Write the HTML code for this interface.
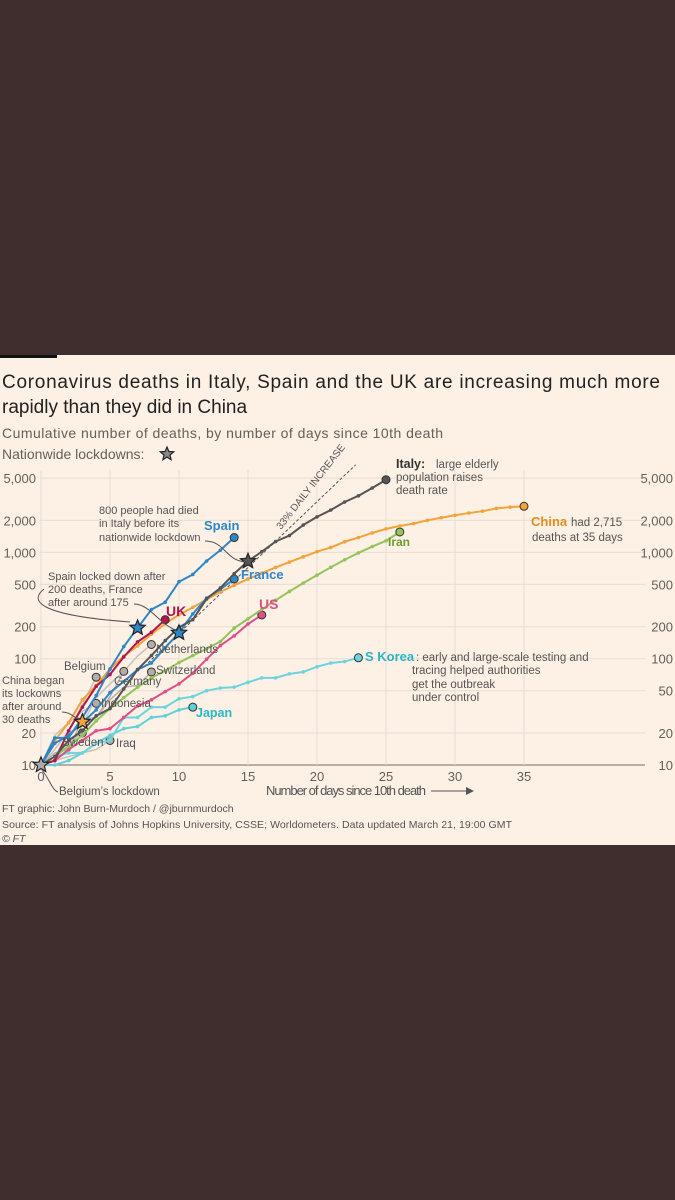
<!DOCTYPE html>
<html><head><meta charset="utf-8"><style>
html,body{margin:0;padding:0;background:#3f2e2d;}
svg{display:block;font-family:"Liberation Sans",sans-serif;}
</style></head><body>
<svg id="s" width="675" height="1200" viewBox="0 0 675 1200">
<rect x="0" y="0" width="675" height="1200" fill="#3f2e2d"/>
<rect x="0" y="355" width="675" height="490" fill="#fdf0e5"/>
<rect x="0" y="355" width="57" height="3" fill="#111"/>
<text x="2" y="388" font-size="19" fill="#222" textLength="658">Coronavirus deaths in Italy, Spain and the UK are increasing much more</text>
<text x="2" y="413" font-size="19" fill="#222">rapidly than they did in China</text>
<text x="2" y="438" font-size="14" fill="#66605a" textLength="441">Cumulative number of deaths, by number of days since 10th death</text>
<text x="2" y="459" font-size="14" fill="#66605a">Nationwide lockdowns:</text>
<g id="grid"></g><g id="axes"></g><g id="lines"></g><g id="ann"></g>
<text x="266" y="795" font-size="13" fill="#555" textLength="160">Number of days since 10th death</text>
<line x1="431" y1="791" x2="468" y2="791" stroke="#555" stroke-width="1"/>
<path d="M466,787 L474,791 L466,795 Z" fill="#555"/>
<text x="2" y="812" font-size="10.5" fill="#555">FT graphic: John Burn-Murdoch / @jburnmurdoch</text>
<text x="2" y="828" font-size="10.5" fill="#555" textLength="510">Source: FT analysis of Johns Hopkins University, CSSE; Worldometers. Data updated March 21, 19:00 GMT</text>
<text x="2" y="842" font-size="10.5" fill="#555" font-style="italic">© FT</text>
</svg>
<script>
const yTicks=[10,20,50,100,200,500,1000,2000,5000];
const yTickLabels=["10","20","50","100","200","500","1,000","2,000","5,000"];
const xTicks=[0,5,10,15,20,25,30,35];
const italy=[10,12,17,21,29,34,52,79,107,148,197,233,366,463,631,827,1016,1266,1441,1809,2158,2503,2978,3405,4032,4825];
const spain=[10,18,18,28,45,80,130,195,290,340,530,620,830,1050,1380];
const france=[10,16,19,25,33,48,61,79,91,127,175,264,372,450,562];
const uk=[10,11,21,35,55,71,104,144,177,233];
const us=[10,11,14,17,21,22,28,36,41,49,58,73,99,133,164,212,258];
const iran=[10,12,15,19,26,34,43,54,66,77,92,107,124,145,194,237,291,354,429,514,611,724,853,988,1135,1284,1556];
const china=[10,17,25,41,56,80,106,132,170,213,259,304,361,425,490,563,637,722,811,908,1016,1113,1259,1380,1523,1665,1770,1868,2004,2118,2236,2345,2442,2592,2663,2715];
const skorea=[10,12,13,13,16,17,28,28,35,35,42,44,50,53,54,60,66,66,72,75,84,91,94,102];
const japan=[10,10,11,13,16,19,22,23,28,29,33,35];
const belgium=[10,14,21,37,67];
const netherlands=[10,12,20,24,43,58,76,106,136];
const germany=[10,12,13,24,28,44,76];
const switzerland=[10,13,14,27,28,41,54,56,75];
const indonesia=[10,19,25,32,38];
const sweden=[10,12,16,20];
const iraq=[10,11,12,13,14,17];
const svgNS='http://www.w3.org/2000/svg';
const X=d=>41+d*13.8;
const Y=v=>765-106.3*Math.log10(v/10);
function mk(tag,attrs,parent){const e=document.createElementNS(svgNS,tag);for(const k in attrs)e.setAttribute(k,attrs[k]);document.getElementById(parent).appendChild(e);return e;}
yTicks.forEach((t,i)=>{
  const g=mk('line',{x1:40,x2:645,y1:Y(t),y2:Y(t),stroke:i==0?'#8a8580':'#e9ddd2','stroke-width':i==0?1.2:1},'grid');
  
  
  if(t!==50){
  const a=mk('text',{x:36,y:Y(t)+5,'font-size':13,fill:'#66605a','text-anchor':'end'},'axes');a.textContent=yTickLabels[i];
  
  
  }
  const b=mk('text',{x:673,y:Y(t)+5,'font-size':13,fill:'#66605a','text-anchor':'end'},'axes');b.textContent=yTickLabels[i];
  
  
});
xTicks.forEach(t=>{
  const g=mk('line',{x1:X(t),x2:X(t),y1:470,y2:765,stroke:'#e9ddd2'},'grid');
  
  
  const a=mk('text',{x:X(t),y:781,'font-size':13,fill:'#66605a','text-anchor':'middle'},'axes');a.textContent=t;
  
  
});
(function(){const d0=7.5,d1=22.8;const l=mk('line',{x1:X(d0),y1:Y(10*Math.pow(1.33,d0)),x2:X(d1),y2:Y(10*Math.pow(1.33,d1)),stroke:'#555','stroke-dasharray':'3,2','stroke-width':1},'lines');

})();
const series=[
 ['belgium',belgium,'#c9c2ba',1.5],['netherlands',netherlands,'#c9c2ba',1.5],['germany',germany,'#b8b0a8',1.5],['switzerland',switzerland,'#b8b0a8',1.5],
 ['indonesia',indonesia,'#c9c2ba',1.5],['sweden',sweden,'#c9c2ba',1.5],['iraq',iraq,'#c9c2ba',1.5],
 ['japan',japan,'#5fd0da',2],['skorea',skorea,'#6fd3dd',2],['us',us,'#df4e86',2],['iran',iran,'#92c45a',2],
 ['china',china,'#f2a33a',2],['uk',uk,'#b0164f',2],['france',france,'#2e86c6',2],['spain',spain,'#2e86c6',2],['italy',italy,'#555',2]];
series.forEach(([n,d,c,w])=>{
  const p=mk('polyline',{points:d.map((v,i)=>X(i)+','+Y(v)).join(' '),fill:'none',stroke:c,'stroke-width':w,'stroke-linejoin':'round'},'lines');
  
  
  if(w>1.6)d.forEach((v,i)=>{const m=mk('circle',{cx:X(i),cy:Y(v),r:1.8,fill:c},'lines');
    
    });
  const gray=w<1.6;const last=d.length-1;
  const e=mk('circle',{cx:X(last),cy:Y(d[last]),r:4,fill:gray?'#b5ada5':c,stroke:'#333','stroke-width':1},'lines');
  
  
});
function star(cx,cy,r,fill,name){let pts=[];for(let i=0;i<10;i++){const a=-Math.PI/2+i*Math.PI/5,rr=i%2?r*0.45:r;pts.push((cx+rr*Math.cos(a)).toFixed(1)+','+(cy+rr*Math.sin(a)).toFixed(1));}
  const s=mk('polygon',{points:pts.join(' '),fill:fill,stroke:'#222','stroke-width':1.2},'ann');
  
  }
star(X(0),Y(10),8,'#aaa','belgium-lockdown-star');
star(X(3),Y(china[3]*0.62),8,'#f2a33a','china-lockdown-star');
star(X(7),Y(spain[7]),8,'#2e86c6','spain-lockdown-star');
star(X(10),Y(france[10]),8,'#2e86c6','france-lockdown-star');
star(X(15),Y(italy[15]),8,'#555','italy-lockdown-star');
star(167,454,7,'#888','legend-star');
const labels=[
 [204,530,13,'#2e86c6','Spain',1,'spain-label'],[241,579,13,'#2e86c6','France',1,'france-label'],[166,616,14,'#b0164f','UK',1,'uk-label'],
 [259,609,14,'#df4e86','US',1,'us-label'],[388,546,12,'#6b9c2e','Iran',1,'iran-label'],[196,717,12.5,'#2bb5c4','Japan',1,'japan-label'],
 [365,661,13,'#2bb5c4','S Korea',1,'skorea-label'],[531,526,13,'#e08e1c','China',1,'china-label'],[396,468,12.5,'#333','Italy:',1,'italy-label'],
 [156,653,11.5,'#555','Netherlands',0,'netherlands-label'],[156,674,11.5,'#555','Switzerland',0,'switzerland-label'],[114,685,11.5,'#555','Germany',0,'germany-label'],
 [64,670,11.5,'#555','Belgium',0,'belgium-label'],[101,707,11.5,'#555','Indonesia',0,'indonesia-label'],[62,746,11.5,'#555','Sweden',0,'sweden-label'],[116,747,11.5,'#555','Iraq',0,'iraq-label'],
 [59,795,11.5,'#555','Belgium’s lockdown',0,'belgium-lockdown-note'],
 [436,468,11.5,'#555','large elderly',0,'italy-note-1'],[396,481,11.5,'#555','population raises',0,'italy-note-2'],[396,494,11.5,'#555','death rate',0,'italy-note-3'],
 [571,526,11.5,'#555','had 2,715',0,'china-note-1'],[532,541,11.5,'#555','deaths at 35 days',0,'china-note-2'],
 [416,661,11.5,'#555',': early and large-scale testing and',0,'skorea-note-1'],[412,674,11.5,'#555','tracing helped authorities',0,'skorea-note-2'],[412,688,11.5,'#555','get the outbreak',0,'skorea-note-3'],[412,701,11.5,'#555','under control',0,'skorea-note-4'],
 [99,514,11,'#555','800 people had died',0,'italy-lockdown-note-1'],[99,527,11,'#555','in Italy before its',0,'italy-lockdown-note-2'],[99,541,11,'#555','nationwide lockdown',0,'italy-lockdown-note-3'],
 [48,580,11,'#555','Spain locked down after',0,'spain-note-1'],[48,593,11,'#555','200 deaths, France',0,'spain-note-2'],[48,606,11,'#555','after around 175',0,'spain-note-3'],
 [2,684,11,'#555','China began',0,'china-lockdown-note-1'],[2,697,11,'#555','its lockowns',0,'china-lockdown-note-2'],[2,710,11,'#555','after around',0,'china-lockdown-note-3'],[2,723,11,'#555','30 deaths',0,'china-lockdown-note-4']];
labels.forEach(([x,y,fs,c,t,b,n])=>{const e=mk('text',{x:x,y:y,'font-size':fs,fill:c,'font-weight':b?'bold':'normal'},'ann');e.textContent=t;
  
  });
const rt=mk('text',{x:0,y:0,'font-size':10,fill:'#555',transform:'translate(281,530) rotate(-52)'},'ann');rt.textContent='33% DAILY INCREASE';


[['M205,541 C225,541 225,560 245,562','italy-callout'],['M44,589 C30,600 35,615 130,622','spain-callout'],['M134,604 C150,604 160,625 176,630','france-callout'],['M62,712 C72,712 75,720 80,718','china-callout'],['M42,770 C50,780 52,790 58,792','belgium-callout']].forEach(([d,n])=>{
  const p=mk('path',{d:d,fill:'none',stroke:'#555','stroke-width':1},'ann');
  
  });
</script>
</body></html>
